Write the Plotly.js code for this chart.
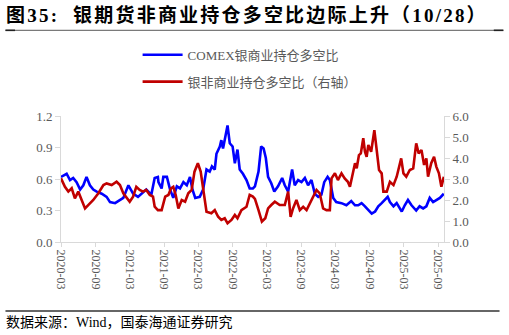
<!DOCTYPE html>
<html>
<head>
<meta charset="utf-8">
<script src="https://cdn.plot.ly/plotly-3.0.1.min.js"></script>
<style>
html,body{margin:0;padding:0;background:#fff;}
#chart{width:509px;height:335px;}
#chart .gtitle{letter-spacing:2.2px;}
</style>
</head>
<body>
<div id="chart"></div>
<script>
// ---- Data ----
const titleText = '图35:  银期货非商业持仓多空比边际上升（10/28）';
const sourceText = '数据来源：Wind，国泰海通证券研究';
const seriesNames = ['COMEX银商业持仓多空比', '银非商业持仓多空比（右轴）'];
const tickLabels = ['2020-03','2020-09','2021-03','2021-09','2022-03','2022-09','2023-03','2023-09','2024-03','2024-09','2025-03','2025-09'];

const blueDates = ['2020-03-01','2020-03-31','2020-04-18','2020-05-05','2020-05-23','2020-06-11','2020-06-28','2020-07-15','2020-08-02','2020-08-20','2020-09-07','2020-10-04','2020-10-30','2020-11-17','2020-12-14','2021-01-09','2021-01-27','2021-02-23','2021-03-20','2021-04-15','2021-05-03','2021-05-29','2021-06-25','2021-07-13','2021-07-30','2021-08-02','2021-08-19','2021-08-28','2021-09-16','2021-10-03','2021-10-20','2021-11-08','2021-11-25','2021-12-13','2021-12-31','2022-01-17','2022-01-30','2022-02-14','2022-03-10','2022-03-28','2022-04-15','2022-05-02','2022-05-14','2022-05-29','2022-06-07','2022-06-25','2022-07-03','2022-07-12','2022-07-24','2022-08-05','2022-08-17','2022-09-01','2022-09-13','2022-09-27','2022-10-09','2022-10-26','2022-11-14','2022-12-01','2022-12-18','2022-12-29','2023-01-17','2023-01-31','2023-02-13','2023-02-25','2023-03-09','2023-03-26','2023-04-11','2023-05-01','2023-05-23','2023-06-06','2023-06-24','2023-07-15','2023-07-29','2023-08-16','2023-09-03','2023-09-21','2023-10-08','2023-10-26','2023-11-13','2023-12-01','2023-12-18','2024-01-02','2024-01-20','2024-02-01','2024-02-19','2024-03-06','2024-04-03','2024-04-29','2024-05-25','2024-06-14','2024-07-01','2024-07-19','2024-08-06','2024-08-24','2024-09-11','2024-09-29','2024-10-16','2024-11-03','2024-11-21','2024-12-05','2024-12-17','2025-01-05','2025-01-22','2025-02-18','2025-03-06','2025-03-23','2025-04-11','2025-05-06','2025-05-24','2025-06-12','2025-06-29','2025-07-17','2025-08-04','2025-08-21','2025-09-09','2025-09-30'];
const blueValues = [0.62,0.65,0.59,0.61,0.57,0.50,0.54,0.62,0.54,0.50,0.48,0.46,0.43,0.38,0.37,0.40,0.42,0.54,0.46,0.43,0.46,0.50,0.45,0.61,0.62,0.57,0.51,0.62,0.62,0.50,0.42,0.53,0.51,0.57,0.54,0.62,0.50,0.42,0.43,0.50,0.69,0.67,0.72,0.69,0.84,0.91,0.97,0.89,1.00,1.11,0.94,0.91,0.75,0.88,0.69,0.65,0.59,0.51,0.51,0.53,0.67,0.91,0.89,0.80,0.62,0.56,0.48,0.53,0.61,0.54,0.48,0.69,0.54,0.59,0.57,0.61,0.54,0.59,0.46,0.43,0.45,0.57,0.62,0.59,0.42,0.38,0.37,0.35,0.39,0.35,0.35,0.37,0.34,0.30,0.27,0.29,0.34,0.37,0.40,0.43,0.38,0.34,0.37,0.29,0.35,0.40,0.35,0.30,0.34,0.32,0.34,0.42,0.38,0.40,0.42,0.46];

const redDates = ['2020-03-01','2020-03-22','2020-04-09','2020-04-27','2020-05-14','2020-06-01','2020-06-19','2020-07-07','2020-07-24','2020-08-20','2020-09-16','2020-10-13','2020-10-30','2020-11-26','2020-12-22','2021-01-09','2021-01-27','2021-02-14','2021-03-02','2021-03-20','2021-04-06','2021-04-24','2021-05-12','2021-05-29','2021-06-17','2021-07-04','2021-07-13','2021-07-30','2021-08-19','2021-09-07','2021-09-24','2021-10-08','2021-10-20','2021-11-02','2021-11-16','2021-12-04','2021-12-22','2022-01-08','2022-01-26','2022-02-10','2022-02-28','2022-03-15','2022-04-02','2022-04-15','2022-05-11','2022-05-29','2022-06-16','2022-07-03','2022-07-21','2022-08-05','2022-08-26','2022-09-13','2022-09-27','2022-10-18','2022-11-14','2022-12-01','2022-12-18','2022-12-29','2023-01-17','2023-02-04','2023-02-22','2023-03-09','2023-03-26','2023-04-14','2023-05-10','2023-06-06','2023-06-24','2023-07-07','2023-07-20','2023-08-07','2023-08-25','2023-09-12','2023-09-30','2023-10-17','2023-11-05','2023-11-22','2023-12-09','2023-12-27','2024-01-14','2024-02-01','2024-02-10','2024-02-28','2024-03-15','2024-04-03','2024-04-20','2024-05-07','2024-05-18','2024-05-27','2024-06-14','2024-06-23','2024-07-05','2024-07-15','2024-07-28','2024-08-06','2024-08-15','2024-08-24','2024-09-08','2024-09-25','2024-10-07','2024-10-20','2024-11-03','2024-11-12','2024-11-30','2024-12-17','2025-01-05','2025-01-22','2025-02-15','2025-02-27','2025-03-14','2025-04-02','2025-04-20','2025-05-06','2025-05-19','2025-06-03','2025-06-17','2025-06-29','2025-07-08','2025-07-25','2025-08-09','2025-08-21','2025-09-04','2025-09-17','2025-09-30'];
const redValues = [3.03,2.63,2.40,2.56,2.08,2.40,2.00,1.60,1.76,2.00,2.32,2.71,2.79,2.71,2.87,2.71,2.32,2.08,1.92,2.16,2.63,2.48,2.40,2.48,2.24,2.16,1.68,1.52,1.52,2.16,2.24,2.56,2.63,2.24,1.60,2.00,1.92,2.32,2.48,3.35,3.75,3.35,2.16,1.44,1.37,1.52,1.20,1.05,1.13,0.89,1.05,1.29,1.13,1.52,1.68,2.24,2.16,2.05,1.52,0.97,1.13,1.60,1.76,1.92,1.76,1.76,2.40,1.20,1.60,2.00,1.52,1.68,1.52,1.84,2.24,2.48,2.32,1.60,1.52,1.52,3.03,3.27,2.95,3.27,3.03,2.87,2.63,3.03,3.75,3.51,4.14,4.22,4.94,4.30,4.06,4.62,4.30,5.33,4.54,3.43,3.27,2.40,2.40,2.87,2.71,3.11,3.98,3.27,3.11,3.43,3.51,4.70,4.22,4.38,3.67,3.98,3.11,3.75,4.06,3.59,3.27,2.63,3.11];

// ---- Chart ----
const gray = '#595959';
const axisGray = '#d9d9d9';
const fontFam = '"Liberation Serif", "Times New Roman", "Noto Sans CJK SC", serif';

const traces = [
  {x: blueDates, y: blueValues, name: seriesNames[0], type: 'scatter', mode: 'lines',
   line: {color: '#0000FF', width: 2.6}, legendgroup: 'a', yaxis: 'y'},
  {x: redDates, y: redValues, name: seriesNames[1], type: 'scatter', mode: 'lines',
   line: {color: '#C00000', width: 2.6}, legendgroup: 'b', yaxis: 'y2'}
];

const layout = {
  width: 509, height: 335,
  margin: {l: 61, r: 65, t: 116, b: 93},
  paper_bgcolor: '#fff', plot_bgcolor: '#fff',
  font: {family: fontFam, color: gray, size: 13},
  showlegend: true,
  legend: {x: 0.2, y: 1.605, xanchor: 'left', yanchor: 'top', orientation: 'v',
           font: {family: fontFam, size: 13, color: gray}, tracegroupgap: 7,
           itemwidth: 40, bgcolor: 'rgba(0,0,0,0)'},
  xaxis: {type: 'date', range: ['2020-03-01', '2025-10-01'],
          tickvals: tickLabels, ticktext: tickLabels, tickangle: 90,
          tickfont: {family: fontFam, size: 12, color: gray},
          showline: true, linecolor: axisGray, linewidth: 1,
          ticks: 'outside', ticklen: 4, tickcolor: axisGray,
          showgrid: false, zeroline: false},
  yaxis: {range: [0, 1.2], tickvals: [0, 0.3, 0.6, 0.9, 1.2], tickformat: '.1f',
          tickfont: {family: fontFam, size: 13, color: gray},
          showline: true, linecolor: axisGray, linewidth: 1,
          ticks: 'outside', ticklen: 5, tickcolor: axisGray,
          showgrid: false, zeroline: false},
  yaxis2: {range: [0, 6], tickvals: [0, 1, 2, 3, 4, 5, 6], tickformat: '.1f',
           overlaying: 'y', side: 'right',
           tickfont: {family: fontFam, size: 13, color: gray},
           showline: true, linecolor: axisGray, linewidth: 1,
           ticks: 'outside', ticklen: 5, tickcolor: axisGray,
           showgrid: false, zeroline: false},
  title: {text: '<b>' + titleText + '</b>', x: 0.012, xanchor: 'left', xref: 'container',
          y: 0.955, yanchor: 'middle', yref: 'container',
          font: {family: '"Liberation Serif", "Noto Sans CJK SC", serif', size: 19, color: '#000'}},
  annotations: [
    {text: sourceText, xref: 'paper', yref: 'paper', x: -0.148, y: -0.64,
     xanchor: 'left', yanchor: 'middle', showarrow: false,
     font: {family: '"Liberation Serif", "Noto Sans CJK SC", serif', size: 14, color: '#000'}}
  ],
  shapes: [
    {type: 'line', xref: 'paper', yref: 'paper', x0: -0.145, x1: 1.155, y0: 1.68, y1: 1.68,
     line: {color: '#7a7a7a', width: 1.3}, layer: 'above'},
    {type: 'line', xref: 'paper', yref: 'paper', x0: -0.145, x1: -0.12, y0: 1.68, y1: 1.68,
     line: {color: '#222', width: 1.6}, layer: 'above'},
    {type: 'line', xref: 'paper', yref: 'paper', x0: 1.13, x1: 1.155, y0: 1.68, y1: 1.68,
     line: {color: '#222', width: 1.6}, layer: 'above'},
    {type: 'line', xref: 'paper', yref: 'paper', x0: -0.145, x1: 1.145, y0: -0.548, y1: -0.548,
     line: {color: '#333', width: 1.6}}
  ]
};

Plotly.newPlot('chart', traces, layout, {displayModeBar: false, staticPlot: true});
</script>
</body>
</html>
